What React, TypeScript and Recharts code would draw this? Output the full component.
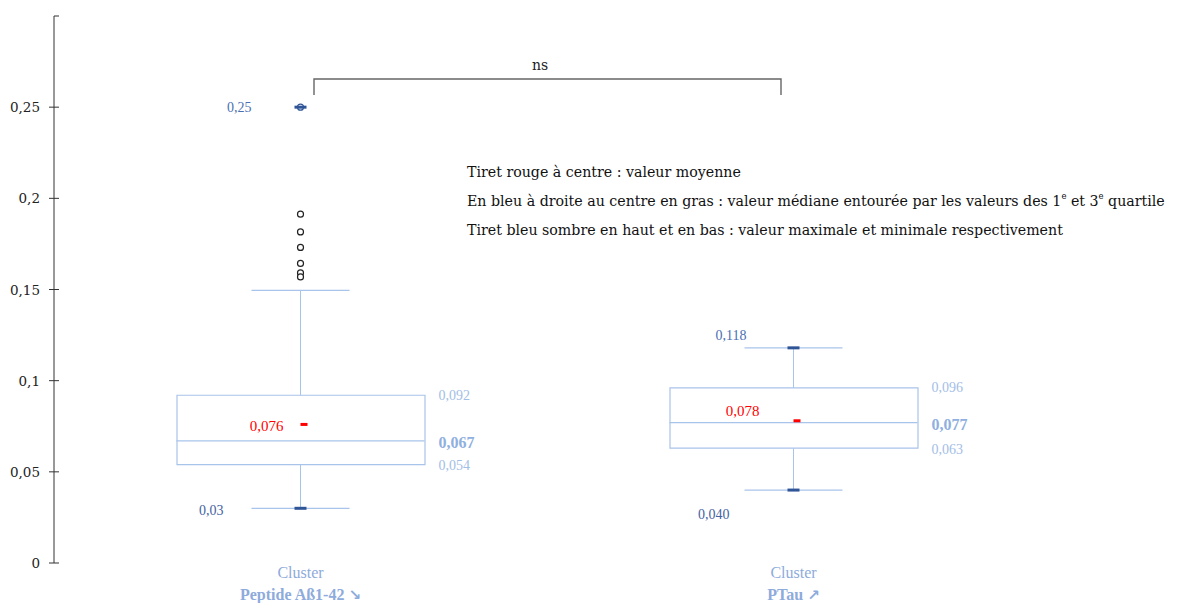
import React from 'react';
import { ComposedChart, Bar, Scatter, XAxis, YAxis, Customized } from 'recharts';

// Boîtes à moustaches — deux clusters
const categories = ['Peptide Aß1-42', 'PTau'];
const arrows = ['↘', '↗'];
const q1 = [0.054, 0.063];
const medians = [0.067, 0.077];
const q3 = [0.092, 0.096];
const whiskerLow = [0.03, 0.04];
const whiskerHigh = [0.1495, 0.118];
const means = [0.076, 0.078];
const minima = [0.03, 0.04];
const maxima = [0.25, 0.118];
// points isolés du cluster Peptide
const outliersPeptide = [0.25, 0.1913, 0.1816, 0.1731, 0.1643, 0.1591, 0.1569];
const yTicks = [0, 0.05, 0.1, 0.15, 0.2, 0.25, 0.3];

const q1Labels = ['0,054', '0,063'];
const medianLabels = ['0,067', '0,077'];
const q3Labels = ['0,092', '0,096'];
const meanLabels = ['0,076', '0,078'];
const minLabels = ['0,03', '0,040'];
const maxLabels = ['0,25', '0,118'];

const legendLines = [
  'Tiret rouge à centre : valeur moyenne',
  'En bleu à droite au centre en gras : valeur médiane entourée par les valeurs des 1',
  'Tiret bleu sombre en haut et en bas : valeur maximale et minimale respectivement',
];

// réglages de mise en page (pas des données)
const AX = 54;
const BOX_W = 248;
const CAP_HALF = 49;
const LIGHT = '#a9c4ea';
const DARK = '#2f5597';
const LABEL_LIGHT = '#a3bee6';
const SERIF = '"Liberation Serif", "Times New Roman", serif';
const SERIF2 = '"DejaVu Serif", serif';
// décalages des étiquettes min/max/moyenne, par cluster
const meanLabelPos = [{ dx: -17, dy: 2 }, { dx: -34, dy: -10 }];
const minLabelPos = [{ dx: -77, dy: 2 }, { dx: -64, dy: 24 }];
const maxLabelPos = [{ dx: -49, dy: 0 }, { dx: -47, dy: -12 }];

const rows = categories.map((name, i) => ({
  name,
  box: [q1[i], q3[i]],
  whisker: [whiskerLow[i], whiskerHigh[i]],
}));

const pts = (vals: number[]) => vals.map((v, i) => ({ name: categories[i], v, i }));
const medianPts = pts(medians);
const meanPts = pts(means);
const q1Pts = pts(q1);
const q3Pts = pts(q3);
const minPts = pts(minima);
const maxPts = pts(maxima);
const capPts = [...pts(whiskerLow), ...pts(whiskerHigh)];
const extremePts = [...minPts, ...maxPts];
const outlierPts = outliersPeptide.map((v) => ({ name: categories[0], v, i: 0 }));

function YTick({ y, payload }: any) {
  const v = payload.value;
  if (v === 0.3) {
    return <line x1={AX} x2={AX + 5} y1={y} y2={y} stroke="#333" />;
  }
  return (
    <g>
      <line x1={AX - 5} x2={AX + 5} y1={y} y2={y} stroke="#333" />
      <text x={AX - 14} y={y} textAnchor="end" dominantBaseline="central"
        fontFamily={SERIF2} fontSize={13.5} fill="#222">
        {String(v).replace('.', ',')}
      </text>
    </g>
  );
}

function XTick({ x, y, payload }: any) {
  const i = categories.indexOf(payload.value);
  return (
    <g fill="#8eabdc">
      <text x={x} y={y + 7} textAnchor="middle" fontFamily={SERIF} fontSize={16}>Cluster</text>
      <text x={x} y={y + 29} textAnchor="middle" fontFamily={SERIF} fontSize={16} fontWeight="bold">
        {payload.value}{'  '}
        <tspan fontFamily='"DejaVu Sans", sans-serif' fontSize={15}>{arrows[i]}</tspan>
      </text>
    </g>
  );
}

const MedianShape = ({ cx, cy }: any) => (
  <line x1={cx - BOX_W / 2} x2={cx + BOX_W / 2} y1={cy} y2={cy} stroke={LIGHT} strokeWidth={1.2} />
);

const CapShape = ({ cx, cy }: any) => (
  <line x1={cx - CAP_HALF} x2={cx + CAP_HALF} y1={cy} y2={cy} stroke={LIGHT} strokeWidth={1.2} />
);

const ExtremeShape = ({ cx, cy }: any) => (
  <rect x={cx - 6} y={cy - 1.5} width={12} height={3} fill={DARK} />
);

const MeanShape = ({ cx, cy }: any) => (
  <rect x={cx} y={cy - 1.5} width={7} height={3} fill="#ff0000" />
);

const OutlierShape = ({ cx, cy, payload }: any) => (
  <circle cx={cx} cy={cy} r={3} fill="#fff"
    stroke={payload.v === maxima[0] ? DARK : '#222'} strokeWidth={1.2} />
);

const rightLabel = (labels: string[], bold: boolean, dy: number) => ({ cx, cy, payload }: any) => (
  <text x={cx + BOX_W / 2 + 14} y={cy + dy} dominantBaseline="central"
    fontFamily={SERIF} fontSize={bold ? 16 : 14} fontWeight={bold ? 'bold' : 'normal'}
    fill={bold ? '#8fb0e0' : LABEL_LIGHT}>
    {labels[payload.i]}
  </text>
);

const offsetLabel = (labels: string[], pos: { dx: number; dy: number }[], color: string, size: number) =>
  ({ cx, cy, payload }: any) => (
    <text x={cx + pos[payload.i].dx} y={cy + pos[payload.i].dy} textAnchor="end" dominantBaseline="central"
      fontFamily={SERIF} fontSize={size} fill={color}>
      {labels[payload.i]}
    </text>
  );

function Annotations() {
  return (
    <g>
      <path d="M314,95 V79 H781 V95" fill="none" stroke="#666" strokeWidth={1.4} />
      <text x={540} y={65} textAnchor="middle" dominantBaseline="central" fontFamily={SERIF2} fontSize={14} fill="#222">ns</text>
      <g fontFamily={SERIF2} fontSize={14.2} fill="#111">
        <text x={467} y={172} dominantBaseline="central">{legendLines[0]}</text>
        <text x={467} y={201} dominantBaseline="central">
          {legendLines[1]}
          <tspan fontSize={8.5} dy={-5}>e</tspan>
          <tspan dy={5}> et 3</tspan>
          <tspan fontSize={8.5} dy={-5}>e</tspan>
          <tspan dy={5}> quartile</tspan>
        </text>
        <text x={467} y={230} dominantBaseline="central">{legendLines[2]}</text>
      </g>
    </g>
  );
}

export default function App() {
  return (
    <div style={{ position: 'absolute', left: 0, top: 0, background: '#fff' }}>
      <ComposedChart width={1177} height={603} data={rows}
        margin={{ top: 16, right: 137, bottom: 10, left: 0 }}>
        <XAxis dataKey="name" allowDuplicatedCategory={false} axisLine={false} tickLine={false}
          height={30} tick={<XTick />} interval={0} />
        <XAxis xAxisId="w" dataKey="name" hide />
        <YAxis type="number" domain={[0, 0.3]} ticks={yTicks} width={54} allowDataOverflow
          axisLine={{ stroke: '#333' }} tickLine={false} tick={<YTick />} interval={0} />
        <Bar xAxisId="w" dataKey="whisker" barSize={1} fill={LIGHT} isAnimationActive={false} />
        <Bar dataKey="box" barSize={BOX_W} fill="#fff" stroke={LIGHT} strokeWidth={1.2} isAnimationActive={false} />
        <Scatter data={medianPts} dataKey="v" shape={MedianShape} isAnimationActive={false} />
        <Scatter data={capPts} dataKey="v" shape={CapShape} isAnimationActive={false} />
        <Scatter data={outlierPts} dataKey="v" shape={OutlierShape} isAnimationActive={false} />
        <Scatter data={extremePts} dataKey="v" shape={ExtremeShape} isAnimationActive={false} />
        <Scatter data={meanPts} dataKey="v" shape={MeanShape} isAnimationActive={false} />
        <Scatter data={q3Pts} dataKey="v" shape={rightLabel(q3Labels, false, 0)} isAnimationActive={false} />
        <Scatter data={medianPts} dataKey="v" shape={rightLabel(medianLabels, true, 2)} isAnimationActive={false} />
        <Scatter data={q1Pts} dataKey="v" shape={rightLabel(q1Labels, false, 1)} isAnimationActive={false} />
        <Scatter data={meanPts} dataKey="v" shape={offsetLabel(meanLabels, meanLabelPos, '#ff0000', 15)} isAnimationActive={false} />
        <Scatter data={minPts} dataKey="v" shape={offsetLabel(minLabels, minLabelPos, '#44639f', 14)} isAnimationActive={false} />
        <Scatter data={maxPts} dataKey="v" shape={offsetLabel(maxLabels, maxLabelPos, '#4a6fb3', 14)} isAnimationActive={false} />
        <Customized component={Annotations} />
      </ComposedChart>
    </div>
  );
}
